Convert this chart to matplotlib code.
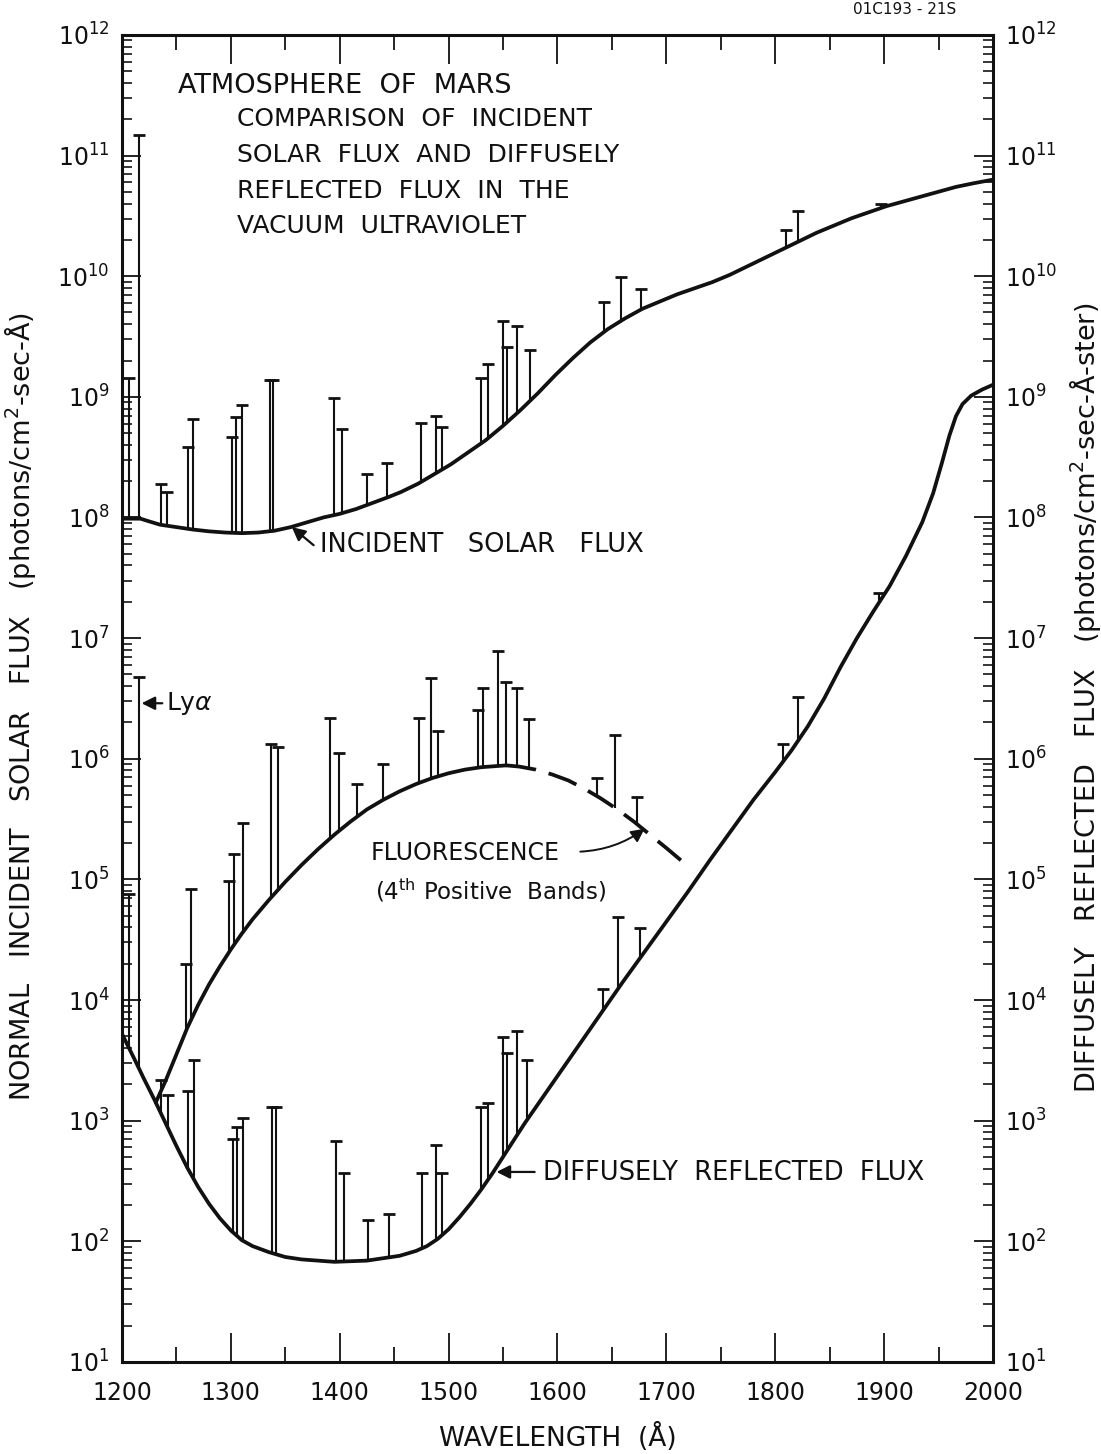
import numpy as np
import matplotlib
matplotlib.use("Agg")
import matplotlib.pyplot as plt
from matplotlib.ticker import FixedLocator, MultipleLocator, LogFormatterMathtext, NullFormatter

plt.rcParams['font.family'] = ['DejaVu Sans']
plt.rcParams['mathtext.fontset'] = 'dejavusans'

# ---- smooth curves: wavelength (Angstrom) and log10 of flux ----
incident_wl = [1200, 1210, 1217, 1224, 1235, 1250, 1265, 1280, 1295, 1310, 1325,
               1340, 1355, 1370, 1385, 1400, 1415, 1430, 1445, 1456, 1472, 1487,
               1502, 1518, 1534, 1550, 1566, 1582, 1598, 1614, 1630, 1646, 1662,
               1678, 1694, 1710, 1726, 1742, 1758, 1774, 1790, 1806, 1822, 1838,
               1854, 1870, 1886, 1902, 1918, 1934, 1950, 1966, 1982, 2000]
incident_log = [7.99, 7.99, 7.99, 7.97, 7.94, 7.92, 7.90, 7.885, 7.875, 7.87, 7.875,
                7.89, 7.92, 7.96, 8.00, 8.03, 8.07, 8.12, 8.17, 8.21, 8.28, 8.36,
                8.44, 8.54, 8.64, 8.76, 8.89, 9.03, 9.18, 9.32, 9.45, 9.56, 9.65,
                9.73, 9.79, 9.85, 9.90, 9.95, 10.01, 10.08, 10.15, 10.22, 10.29, 10.36,
                10.42, 10.48, 10.53, 10.58, 10.62, 10.66, 10.70, 10.74, 10.77, 10.80]

fluor_wl = [1231, 1240, 1250, 1260, 1270, 1280, 1290, 1300, 1310, 1320, 1335,
            1350, 1365, 1380, 1395, 1410, 1425, 1440, 1455, 1470, 1485, 1500,
            1515, 1530, 1545, 1553]
fluor_log = [3.15, 3.33, 3.55, 3.77, 3.96, 4.13, 4.28, 4.42, 4.55, 4.67, 4.83,
             4.98, 5.12, 5.25, 5.37, 5.48, 5.58, 5.66, 5.73, 5.79, 5.84, 5.88,
             5.91, 5.93, 5.94, 5.945]

fluor_ext_wl = [1553, 1565, 1580, 1595, 1610, 1625, 1640, 1655, 1670, 1685, 1700, 1721]
fluor_ext_log = [5.945, 5.935, 5.91, 5.87, 5.82, 5.75, 5.67, 5.58, 5.48, 5.37, 5.26, 5.10]

diffuse_wl = [1200, 1206, 1212, 1220, 1230, 1240, 1250, 1260, 1270, 1280, 1290,
              1300, 1310, 1320, 1335, 1350, 1365, 1380, 1395, 1410, 1425, 1440,
              1455, 1470, 1480, 1490, 1500, 1510, 1520, 1530, 1540, 1550, 1560,
              1570, 1580, 1600, 1620, 1640, 1660, 1680, 1700, 1720, 1740, 1760,
              1780, 1800, 1815, 1830, 1845, 1860, 1875, 1890, 1905, 1920, 1935,
              1945, 1953, 1960, 1966, 1972, 1980, 1990, 2000]
diffuse_log = [3.72, 3.61, 3.50, 3.35, 3.17, 2.98, 2.79, 2.61, 2.45, 2.31, 2.19,
               2.09, 2.01, 1.96, 1.91, 1.87, 1.85, 1.84, 1.83, 1.835, 1.84, 1.86,
               1.88, 1.92, 1.96, 2.02, 2.10, 2.20, 2.31, 2.43, 2.56, 2.70, 2.84,
               2.98, 3.11, 3.37, 3.63, 3.89, 4.15, 4.40, 4.65, 4.90, 5.16, 5.41,
               5.66, 5.89, 6.07, 6.27, 6.50, 6.76, 7.00, 7.22, 7.43, 7.68, 7.96,
               8.20, 8.45, 8.68, 8.84, 8.94, 9.01, 9.06, 9.10]

# ---- emission lines: wavelength and log10 of the line top ----
inc_line_wl = [1206, 1216, 1236, 1241, 1261, 1265, 1301, 1305, 1310, 1336, 1339,
               1395, 1402, 1425, 1443, 1475, 1488, 1494, 1530, 1536, 1550, 1554,
               1563, 1575, 1643, 1658, 1677, 1810, 1821, 1897]
inc_line_top = [9.16, 11.17, 8.28, 8.21, 8.58, 8.82, 8.67, 8.83, 8.93, 9.14, 9.14,
                8.99, 8.73, 8.36, 8.45, 8.78, 8.84, 8.75, 9.16, 9.27, 9.63, 9.41,
                9.59, 9.39, 9.79, 9.99, 9.89, 10.38, 10.54, 10.60]

fl_line_wl = [1259, 1263, 1298, 1303, 1311, 1337, 1343, 1391, 1399, 1416, 1440,
              1473, 1484, 1490, 1527, 1532, 1545, 1553, 1563, 1574, 1636, 1653, 1673]
fl_line_top = [4.30, 4.92, 4.99, 5.21, 5.47, 6.12, 6.10, 6.34, 6.05, 5.79, 5.96,
               6.34, 6.67, 6.23, 6.40, 6.59, 6.89, 6.64, 6.59, 6.33, 5.84, 6.20, 5.68]

dif_line_wl = [1206, 1216, 1236, 1242, 1261, 1266, 1302, 1306, 1311, 1338, 1341,
               1397, 1404, 1426, 1445, 1476, 1488, 1494, 1530, 1536, 1550, 1554,
               1563, 1572, 1642, 1656, 1676, 1807, 1821, 1895]
dif_line_top = [4.88, 6.68, 3.34, 3.21, 3.25, 3.50, 2.85, 2.95, 3.02, 3.11, 3.11,
                2.83, 2.57, 2.18, 2.23, 2.57, 2.80, 2.57, 3.11, 3.15, 3.69, 3.56,
                3.74, 3.50, 4.09, 4.69, 4.60, 6.12, 6.51, 7.37]

x_ticks = [1200, 1300, 1400, 1500, 1600, 1700, 1800, 1900, 2000]
y_decades = list(range(1, 13))

INK = '#111111'

fig = plt.figure(figsize=(11.01, 14.54), dpi=100)
ax = fig.add_axes([0.1108, 0.0633, 0.7911, 0.9127])
ax.set_yscale('log')
ax.set_xlim(1200, 2000)
ax.set_ylim(1e1, 1e12)

curve_kw = dict(color=INK, lw=2.7, solid_capstyle='round', solid_joinstyle='round')
ax.plot(incident_wl, 10 ** np.array(incident_log), **curve_kw)
ax.plot(diffuse_wl, 10 ** np.array(diffuse_log), **curve_kw)
ax.plot(fluor_wl, 10 ** np.array(fluor_log), **curve_kw)
ax.plot(fluor_ext_wl, 10 ** np.array(fluor_ext_log), color=INK, lw=2.7,
        dashes=(8, 3.5), dash_capstyle='butt')


def draw_lines(wl, top, base_wl, base_log):
    wl = np.array(wl, dtype=float)
    base = np.interp(wl, base_wl, base_log)
    ax.vlines(wl, 10 ** base, 10 ** np.array(top), color=INK, lw=1.5)
    ax.plot(wl, 10 ** np.array(top), ls='none', marker='_', ms=9, mew=2.0, color=INK)


draw_lines(inc_line_wl, inc_line_top, incident_wl, incident_log)
draw_lines(fl_line_wl, fl_line_top, fluor_wl + fluor_ext_wl, fluor_log + fluor_ext_log)
draw_lines(dif_line_wl, dif_line_top, diffuse_wl, diffuse_log)

# ---- axes styling ----
for s in ax.spines.values():
    s.set_linewidth(2.2)
    s.set_color(INK)
ax.set_xticks(x_ticks)
ax.set_xticklabels([str(v) for v in x_ticks])
ax.xaxis.set_minor_locator(MultipleLocator(50))
ax.yaxis.set_major_locator(FixedLocator([10.0 ** k for k in y_decades]))
ax.yaxis.set_minor_locator(FixedLocator([m * 10.0 ** k for k in y_decades[:-1]
                                         for m in range(2, 10)]))
ax.yaxis.set_major_formatter(LogFormatterMathtext())
ax.yaxis.set_minor_formatter(NullFormatter())
ax.tick_params(axis='x', which='major', direction='in', top=True, bottom=True,
               length=21, width=1.3, labelsize=17, pad=14, colors=INK)
ax.tick_params(axis='x', which='minor', direction='in', top=True, bottom=True,
               length=11, width=1.2)
ax.tick_params(axis='y', which='major', direction='in', left=True, right=True,
               labelleft=True, labelright=True, length=14, width=1.3,
               labelsize=17, pad=9, colors=INK)
ax.tick_params(axis='y', which='minor', direction='in', left=True, right=True,
               length=7, width=1.1)

# ---- text ----
tkw = dict(color=INK, fontsize=18, transform=ax.transAxes, va='center', ha='left')
ax.text(0.0643, 0.9616, 'ATMOSPHERE  OF  MARS', color=INK, fontsize=19.5,
        transform=ax.transAxes, va='center', ha='left')
ax.text(0.132, 0.9367, 'COMPARISON  OF  INCIDENT', **tkw)
ax.text(0.132, 0.9096, 'SOLAR  FLUX  AND  DIFFUSELY', **tkw)
ax.text(0.132, 0.8825, 'REFLECTED  FLUX  IN  THE', **tkw)
ax.text(0.132, 0.8561, 'VACUUM  ULTRAVIOLET', **tkw)

arrow = dict(arrowstyle='-|>', color=INK, lw=1.6, mutation_scale=20, shrinkA=0, shrinkB=0)
ax.annotate('', xy=(1356, 10 ** 7.92), xytext=(1376, 10 ** 7.77), arrowprops=arrow)
ax.text(1382, 10 ** 7.77, 'INCIDENT   SOLAR   FLUX', fontsize=18.5, color=INK,
        va='center', ha='left')

ax.annotate('', xy=(1218, 10 ** 6.46), xytext=(1237, 10 ** 6.46), arrowprops=arrow)
ax.text(1240, 10 ** 6.46, 'Ly$\\alpha$', fontsize=18, color=INK, va='center', ha='left')

ax.text(1428, 10 ** 5.22, 'FLUORESCENCE', fontsize=17, color=INK, va='center', ha='left')
ax.text(1432, 10 ** 4.91, '(4$^{\\rm th}$ Positive  Bands)', fontsize=16.5, color=INK,
        va='center', ha='left')
ax.annotate('', xy=(1680, 10 ** 5.42), xytext=(1621, 10 ** 5.23),
            arrowprops=dict(arrowstyle='-|>', color=INK, lw=1.4, mutation_scale=20,
                            shrinkA=0, shrinkB=0, connectionstyle='arc3,rad=0.15'))

ax.annotate('', xy=(1544, 10 ** 2.575), xytext=(1579, 10 ** 2.575), arrowprops=arrow)
ax.text(1587, 10 ** 2.57, 'DIFFUSELY  REFLECTED  FLUX', fontsize=18.5, color=INK,
        va='center', ha='left')

fig.text(20 / 1101, 1 - 706 / 1454,
         'NORMAL   INCIDENT   SOLAR   FLUX   (photons/cm$^2$-sec-Å)',
         rotation=90, va='center', ha='center', fontsize=19.5, color=INK)
fig.text(1085 / 1101, 1 - 698 / 1454,
         'DIFFUSELY   REFLECTED   FLUX   (photons/cm$^2$-sec-Å-ster)',
         rotation=90, va='center', ha='center', fontsize=19.5, color=INK)
fig.text(558 / 1101, 1 - 1437 / 1454, 'WAVELENGTH  (Å)', va='center', ha='center',
         fontsize=19, color=INK)
fig.text(905 / 1101, 1 - 10 / 1454, '01C193 - 21S', va='center', ha='center',
         fontsize=11, color=INK)

fig.savefig('out.png', dpi=100, facecolor='white')
